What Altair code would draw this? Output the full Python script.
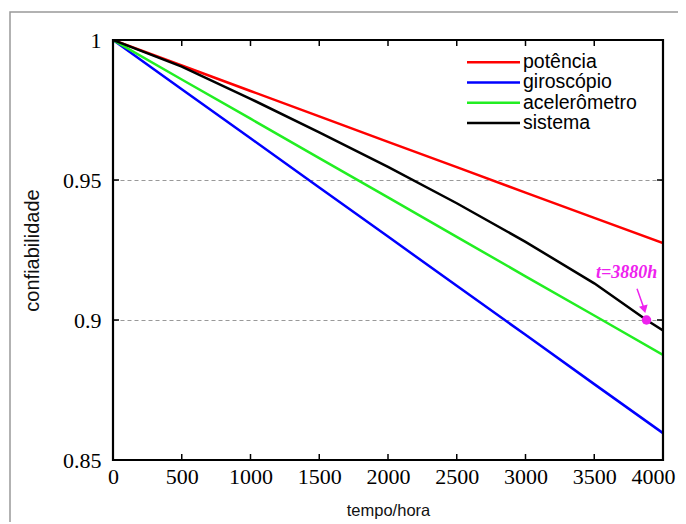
import altair as alt
import pandas as pd

# ---- data ----
tempo = [0, 500, 1000, 1500, 2000, 2500, 3000, 3500, 4000]
potencia = [1.0, 0.9909, 0.9818, 0.9727, 0.9636, 0.9546, 0.9455, 0.9365, 0.9275]
giroscopio = [1.0, 0.9824, 0.9649, 0.9473, 0.9298, 0.9122, 0.8947, 0.8771, 0.8596]
acelerometro = [1.0, 0.9859, 0.9719, 0.9578, 0.9438, 0.9297, 0.9156, 0.9016, 0.8875]
tempo_sis = [0, 500, 1000, 1500, 2000, 2500, 3000, 3500, 3880, 4000]
sistema = [1.0, 0.9905, 0.979, 0.967, 0.9547, 0.9417, 0.9279, 0.9131, 0.900, 0.8963]

series = ["potência", "giroscópio", "acelerômetro", "sistema"]
colors = ["#ff0000", "#0000ff", "#22ee22", "#000000"]

x_ticks = [0, 500, 1000, 1500, 2000, 2500, 3000, 3500, 4000]
y_ticks = [0.85, 0.9, 0.95, 1.0]

marker_t = [3880]
marker_r = [0.900]
marker_label = ["t=3880h"]
label_t = [3735]
label_r = [0.9168]
arrow_t = [3811, 3864]
arrow_r = [0.9112, 0.9038]

# ---- tables ----
rows = []
for name, xs, ys in [("potência", tempo, potencia), ("giroscópio", tempo, giroscopio),
                     ("acelerômetro", tempo, acelerometro), ("sistema", tempo_sis, sistema)]:
    for xv, yv in zip(xs, ys):
        rows.append({"series": name, "t": xv, "r": yv})
df = pd.DataFrame(rows)

xt = pd.DataFrame({"t": x_ticks})
yt = pd.DataFrame({"r": y_ticks})
leg = pd.DataFrame({"series": series})
mk = pd.DataFrame({"t": marker_t, "r": marker_r})
lbl = pd.DataFrame({"t": label_t, "r": label_r, "txt": marker_label})
arr = pd.DataFrame({"t": [arrow_t[0]], "r": [arrow_r[0]], "t2": [arrow_t[1]], "r2": [arrow_r[1]]})
head = pd.DataFrame({"t": [arrow_t[1]], "r": [arrow_r[1]]})

xscale = alt.Scale(domain=[0, 4000], nice=False)
yscale = alt.Scale(domain=[0.85, 1.0], nice=False, zero=False)
cscale = alt.Scale(domain=series, range=colors)

SERIF = "Liberation Serif"
SANS = "Liberation Sans"
MAG = "#ee22ee"

lines = alt.Chart(df).mark_line(strokeWidth=2.5, clip=True).encode(
    x=alt.X("t:Q", scale=xscale, title="tempo/hora",
            axis=alt.Axis(values=x_ticks, format="d", labelFont=SERIF, labelFontSize=22,
                          labelColor="black", labelPadding=6, ticks=False, domain=False,
                          grid=False, titleFont=SANS, titleFontSize=16.5, titleFontWeight="normal",
                          titleColor="#111", titlePadding=15, labelFlush=False,
                          labelOffset={"condition": {"test": "datum.value == 4000", "value": -10},
                                       "value": 0})),
    y=alt.Y("r:Q", scale=yscale, title="confiabilidade",
            axis=alt.Axis(values=y_ticks, format="~g", labelFont=SERIF, labelFontSize=22,
                          labelColor="black", labelPadding=12, ticks=False, domain=False,
                          grid=True, gridDash=[4, 3], gridColor="#999999", gridWidth=1,
                          titleFont=SANS, titleFontSize=20, titleFontWeight="normal",
                          titleColor="#111", titlePadding=20, labelFlush=False)),
    color=alt.Color("series:N", scale=cscale, legend=None),
    detail="series:N",
)

bx = alt.Chart(xt).mark_rule(color="black", strokeWidth=1.5).encode(
    x=alt.X("t:Q", scale=xscale), y=alt.value(420), y2=alt.value(414))
tx = alt.Chart(xt).mark_rule(color="black", strokeWidth=1.5).encode(
    x=alt.X("t:Q", scale=xscale), y=alt.value(0), y2=alt.value(6))
ly = alt.Chart(yt).mark_rule(color="black", strokeWidth=1.5).encode(
    y=alt.Y("r:Q", scale=yscale), x=alt.value(0), x2=alt.value(6))
ry = alt.Chart(yt).mark_rule(color="black", strokeWidth=1.5).encode(
    y=alt.Y("r:Q", scale=yscale), x=alt.value(550), x2=alt.value(544))

pt = alt.Chart(mk).mark_point(filled=True, size=90, color=MAG, opacity=1).encode(
    x=alt.X("t:Q", scale=xscale), y=alt.Y("r:Q", scale=yscale))
ar = alt.Chart(arr).mark_rule(color=MAG, strokeWidth=1.5).encode(
    x=alt.X("t:Q", scale=xscale), y=alt.Y("r:Q", scale=yscale), x2="t2:Q", y2="r2:Q")
hd = alt.Chart(head).mark_point(shape="triangle-down", filled=True, size=80, color=MAG,
                                opacity=1, angle=345).encode(
    x=alt.X("t:Q", scale=xscale), y=alt.Y("r:Q", scale=yscale))
tx_lbl = alt.Chart(lbl).mark_text(font=SERIF, fontSize=18, fontStyle="italic",
                                  fontWeight="bold", color=MAG).encode(
    x=alt.X("t:Q", scale=xscale), y=alt.Y("r:Q", scale=yscale), text="txt:N")

outer = alt.Chart(alt.Data(values=[{}])).mark_rect(
    fill=None, fillOpacity=0, stroke="#999999", strokeWidth=1.5).encode(
    x=alt.value(-103), x2=alt.value(640), y=alt.value(-28), y2=alt.value(560))

box = alt.Chart(alt.Data(values=[{}])).mark_rect(
    fill=None, fillOpacity=0, stroke="black", strokeWidth=2.2).encode(
    x=alt.value(0), x2=alt.value(550), y=alt.value(0), y2=alt.value(420))

main = alt.layer(lines, bx, tx, ly, ry, ar, hd, pt, tx_lbl)

legy = alt.Scale(domain=series, range=[12, 93])
leg_rule = alt.Chart(leg).mark_rule(strokeWidth=2.5).encode(
    y=alt.Y("series:N", scale=legy, axis=None),
    x=alt.value(354), x2=alt.value(407),
    color=alt.Color("series:N", scale=cscale, legend=None))
leg_text = alt.Chart(leg).mark_text(align="left", baseline="middle", font=SANS,
                                    fontSize=19.5, color="black").encode(
    y=alt.Y("series:N", scale=legy, axis=None),
    x=alt.value(410), text="series:N")
legend = alt.layer(leg_rule, leg_text)

chart = alt.layer(outer, main, legend, box).resolve_scale(y="independent").properties(
    width=550, height=420,
    autosize=alt.AutoSizeParams(type="none"),
    padding={"left": 105, "top": 32, "right": 15, "bottom": 62},
).configure_view(stroke=None).configure(background="white")

chart.save("out.html", embed_options={"renderer": "svg", "actions": False})
